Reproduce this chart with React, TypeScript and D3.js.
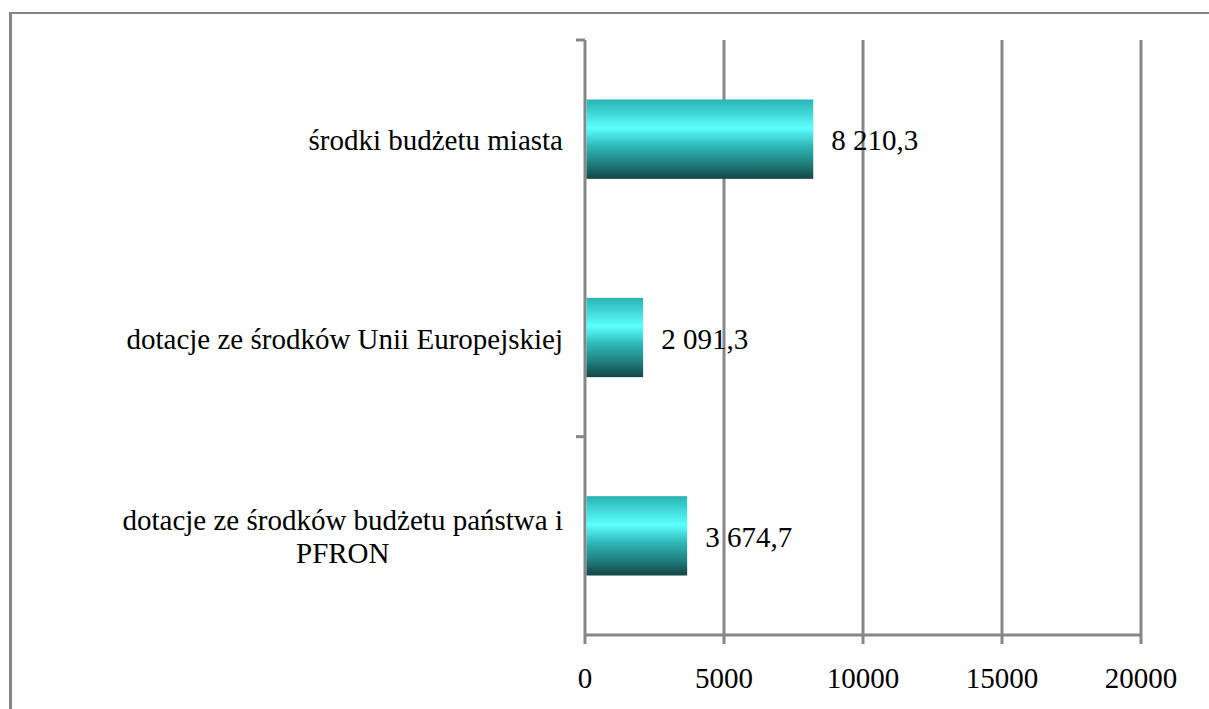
import React, { useEffect, useRef } from 'react';
import * as d3 from 'd3';

// data
const categories = [
  'środki budżetu miasta',
  'dotacje ze środków Unii Europejskiej',
  'dotacje ze środków budżetu państwa i\nPFRON',
];
const values = [8210.3, 2091.3, 3674.7];
const xTicks = [0, 5000, 10000, 15000, 20000];

const WIDTH = 1209;
const HEIGHT = 709;

const App = () => {
  const svgRef = useRef<SVGSVGElement>(null);

  useEffect(() => {
    const svg = d3.select(svgRef.current);
    svg.selectAll('*').remove();

    const font = "'Liberation Serif', Tinos, 'Times New Roman', Times, 'DejaVu Serif', serif";
    const fontSize = 29;
    const grey = '#878787';

    const plot = { left: 585, right: 1141, top: 40, bottom: 635 };

    const x = d3.scaleLinear().domain([0, 20000]).range([plot.left, plot.right]);
    const y = d3.scaleBand()
      .domain(categories)
      .range([plot.top, plot.bottom])
      .paddingInner(0.6)
      .paddingOuter(0.3);

    const plLocale = d3.formatLocale({
      decimal: ',',
      thousands: ' ',
      grouping: [3],
      currency: ['', ''],
    });
    const fmt = plLocale.format(',.1f');

    // gradient for bars
    const defs = svg.append('defs');
    const grad = defs.append('linearGradient')
      .attr('id', 'barGrad')
      .attr('x1', 0).attr('y1', 0)
      .attr('x2', 0).attr('y2', 1);
    [
      { o: 0, c: '#29b3b3' },
      { o: 0.36, c: '#5cffff' },
      { o: 0.58, c: '#30b9b9' },
      { o: 0.8, c: '#20817f' },
      { o: 1, c: '#134646' },
    ].forEach(s => grad.append('stop').attr('offset', s.o).attr('stop-color', s.c));

    // outer frame
    svg.append('line')
      .attr('x1', 10.5).attr('x2', 10.5)
      .attr('y1', 12).attr('y2', HEIGHT)
      .attr('stroke', '#858585').attr('stroke-width', 3);
    svg.append('line')
      .attr('x1', 9).attr('x2', WIDTH)
      .attr('y1', 13).attr('y2', 13)
      .attr('stroke', '#858585').attr('stroke-width', 2);

    const g = svg.append('g');

    // vertical grid lines + ticks
    g.selectAll('.grid')
      .data(xTicks)
      .join('line')
      .attr('class', 'grid')
      .attr('x1', d => x(d)).attr('x2', d => x(d))
      .attr('y1', plot.top).attr('y2', plot.bottom + 9)
      .attr('stroke', grey)
      .attr('stroke-width', 3);

    // horizontal value axis
    g.append('line')
      .attr('x1', plot.left).attr('x2', plot.right)
      .attr('y1', plot.bottom).attr('y2', plot.bottom)
      .attr('stroke', grey).attr('stroke-width', 3);

    // category tick marks
    const step = y.step();
    const boundaries = d3.range(categories.length + 1).map(i => plot.top + i * step);
    g.selectAll('.ctick')
      .data(boundaries.filter((_, i) => i % 2 === 0 && i < categories.length))
      .join('line')
      .attr('class', 'ctick')
      .attr('x1', plot.left - 9).attr('x2', plot.left)
      .attr('y1', d => d).attr('y2', d => d)
      .attr('stroke', grey).attr('stroke-width', 3);

    // tick labels
    g.selectAll('.xlabel')
      .data(xTicks)
      .join('text')
      .attr('class', 'xlabel')
      .attr('x', d => x(d))
      .attr('y', plot.bottom + 53)
      .attr('text-anchor', 'middle')
      .attr('font-family', font)
      .attr('font-size', fontSize)
      .attr('fill', '#000')
      .text(d => String(d));

    // bars
    g.selectAll('.bar')
      .data(values)
      .join('rect')
      .attr('class', 'bar')
      .attr('x', x(0) + 1.5)
      .attr('y', (d, i) => y(categories[i]) as number)
      .attr('width', d => x(d) - x(0) - 1.5)
      .attr('height', y.bandwidth())
      .attr('fill', 'url(#barGrad)');

    // value labels
    g.selectAll('.vlabel')
      .data(values)
      .join('text')
      .attr('class', 'vlabel')
      .attr('x', d => x(d) + 18)
      .attr('y', (d, i) => (y(categories[i]) as number) + y.bandwidth() / 2 + 11)
      .attr('font-family', font)
      .attr('font-size', fontSize)
      .attr('fill', '#000')
      .text(d => fmt(d));

    // category labels
    const lineH = 33;
    const labelRight = plot.left - 22;
    categories.forEach(cat => {
      const lines = cat.split('\n');
      const cy = (y(cat) as number) + y.bandwidth() / 2;
      const t = g.append('text')
        .attr('font-family', font)
        .attr('font-size', fontSize)
        .attr('fill', '#000');
      const spans = lines.map((ln, i) =>
        t.append('tspan')
          .attr('y', cy + 11 - ((lines.length - 1) * lineH) / 2 + i * lineH)
          .text(ln)
      );
      if (lines.length === 1) {
        t.attr('text-anchor', 'end');
        spans[0].attr('x', labelRight);
      } else {
        const widths = spans.map(s => (s.node() as SVGTSpanElement).getComputedTextLength());
        const cx = labelRight - d3.max(widths)! / 2;
        t.attr('text-anchor', 'middle');
        spans.forEach(s => s.attr('x', cx));
      }
    });
  }, []);

  return (
    <svg
      ref={svgRef}
      width={WIDTH}
      height={HEIGHT}
      style={{ position: 'absolute', left: 0, top: 0, background: '#fff' }}
    />
  );
};

export default App;
